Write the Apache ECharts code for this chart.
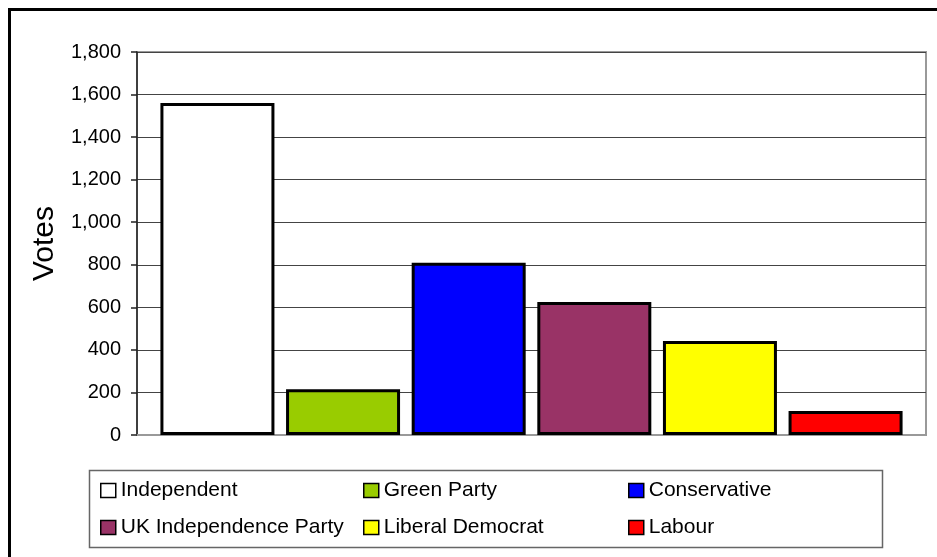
<!DOCTYPE html>
<html>
<head>
<meta charset="utf-8">
<script src="https://cdn.jsdelivr.net/npm/echarts@6/dist/echarts.min.js"></script>
<style>
html,body{margin:0;padding:0;background:#fff;}
#chart{width:937px;height:557px;}
</style>
</head>
<body>
<div id="chart"></div>
<script>
var parties = ['Independent', 'Green Party', 'Conservative', 'UK Independence Party', 'Liberal Democrat', 'Labour'];
var votes = [1560, 215, 810, 625, 442, 113];
var colors = ['#FFFFFF', '#99CC00', '#0000FF', '#993366', '#FFFF00', '#FF0000'];
var yTicks = [0, 200, 400, 600, 800, 1000, 1200, 1400, 1600, 1800];
var axisTitle = 'Votes';
var legendColumns = [
  ['Independent', 'UK Independence Party'],
  ['Green Party', 'Liberal Democrat'],
  ['Conservative', 'Labour']
];

var FONT = 'Liberation Sans, Arial, sans-serif';
var chart = echarts.init(document.getElementById('chart'), null, {renderer: 'canvas'});

var series = parties.map(function (p, i) {
  return {
    name: p,
    type: 'bar',
    data: [votes[i]],
    barWidth: 114,
    barGap: '10.2%',
    itemStyle: {color: colors[i], borderColor: '#000', borderWidth: 3},
    emphasis: {disabled: true},
    animation: false
  };
});

var legendLeft = [100, 363, 628];
var legends = legendColumns.map(function (col, c) {
  return {
    orient: 'vertical',
    left: legendLeft[c],
    top: 480,
    padding: 0,
    itemGap: 16,
    itemWidth: 15,
    itemHeight: 14,
    icon: 'rect',
    selectedMode: false,
    data: col,
    itemStyle: {borderColor: '#000', borderWidth: 1.5},
    textStyle: {fontFamily: FONT, fontSize: 21, color: '#000', lineHeight: 21, padding: [0, 0, 0, 0]}
  };
});

chart.setOption({
  backgroundColor: '#fff',
  animation: false,
  grid: {left: 137, top: 52, right: 11, bottom: 122, show: true, borderColor: '#999', borderWidth: 2, backgroundColor: 'transparent'},
  xAxis: {
    type: 'category',
    data: [''],
    axisTick: {show: false},
    axisLabel: {show: false},
    axisLine: {lineStyle: {color: '#999', width: 2}}
  },
  yAxis: {
    type: 'value',
    min: yTicks[0],
    max: yTicks[yTicks.length - 1],
    interval: yTicks[1] - yTicks[0],
    name: axisTitle,
    nameLocation: 'middle',
    nameGap: 77,
    nameRotate: 90,
    nameTextStyle: {fontFamily: FONT, fontSize: 30, color: '#000'},
    axisLine: {show: true, lineStyle: {color: '#222', width: 1.5}},
    axisTick: {show: true, length: 6, lineStyle: {color: '#222', width: 1.5}},
    axisLabel: {
      fontFamily: FONT, fontSize: 20, color: '#000', margin: 16,
      formatter: function (v) { return v.toLocaleString('en-US'); }
    },
    splitLine: {lineStyle: {color: '#444', width: 1.2}}
  },
  legend: legends,
  series: series,
  graphic: [
    {type: 'rect', silent: true, z: 100, shape: {x: 9.5, y: 9.5, width: 1200, height: 1200}, style: {fill: 'none', stroke: '#000', lineWidth: 3}},
    {type: 'rect', silent: true, z: -1, shape: {x: 89.5, y: 470.5, width: 793, height: 77}, style: {fill: '#fff', stroke: '#666', lineWidth: 1.5}}
  ]
});
</script>
</body>
</html>
